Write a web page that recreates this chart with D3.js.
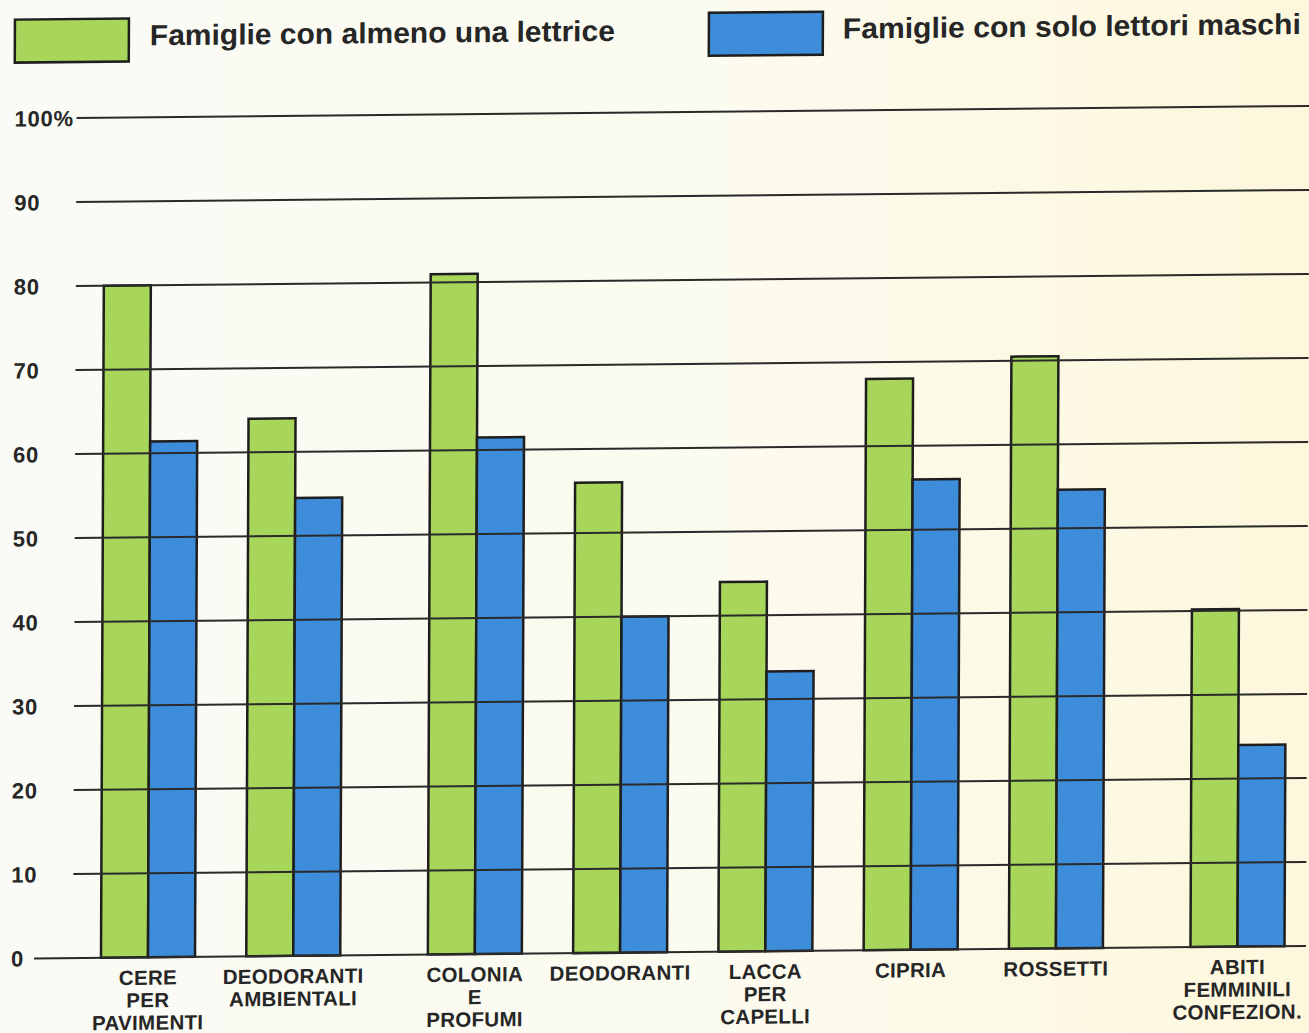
<!DOCTYPE html>
<html>
<head>
<meta charset="utf-8">
<script src="https://cdn.jsdelivr.net/npm/d3@7"></script>
<style>
  html, body { margin: 0; padding: 0; background: #fbfbf6; }
  svg { display: block; }
  text { font-family: "Liberation Sans", Arial, Helvetica, sans-serif; font-weight: bold; fill: #262626; }
</style>
</head>
<body>
<svg id="chart" width="1309" height="1033"></svg>
<script>
// Product categories (line breaks mark how each label wraps)
const categories = [
  "CERE\nPER\nPAVIMENTI",
  "DEODORANTI\nAMBIENTALI",
  "COLONIA\nE\nPROFUMI",
  "DEODORANTI",
  "LACCA\nPER\nCAPELLI",
  "CIPRIA",
  "ROSSETTI",
  "ABITI\nFEMMINILI\nCONFEZION."
];

// Percentages per series
const withFemaleReader = [80, 64, 81, 56, 44, 68, 70.5, 40.2];
const maleReadersOnly  = [61.4, 54.5, 61.5, 40, 33.3, 56, 54.6, 24];

const seriesNames = ["Famiglie con almeno una lettrice", "Famiglie con solo lettori maschi"];

// Y axis ticks and their labels
const yTicks = [0, 10, 20, 30, 40, 50, 60, 70, 80, 90, 100];
const yTickLabels = ["0", "10", "20", "30", "40", "50", "60", "70", "80", "90", "100%"];

// ---- layout ----
const W = 1309, H = 1033;
const colors = ["#a7d65b", "#3e8ddb"];
const ink = "#1e1e1e";
const barW = 47;

// groups that start after a wider gap
const wideGapBefore = new Set(["COLONIA\nE\nPROFUMI", "ABITI\nFEMMINILI\nCONFEZION."]);
let extra = 0;
const slots = categories.map((c, i) => {
  if (wideGapBefore.has(c)) extra += 0.25;
  return i + extra;
});

const x = d3.scaleLinear().domain([0, d3.max(slots)]).range([101, 1190.5]);
const y = d3.scaleLinear().domain([0, 100]).range([958, 118]);

const svg = d3.select("#chart");

// paper tone, slightly warmer towards the right
const defs = svg.append("defs");
const grad = defs.append("linearGradient").attr("id", "paper")
  .attr("x1", "0").attr("y1", "0").attr("x2", "1").attr("y2", "0");
grad.append("stop").attr("offset", "0").attr("stop-color", "#fafbf6");
grad.append("stop").attr("offset", "0.55").attr("stop-color", "#fcfbef");
grad.append("stop").attr("offset", "1").attr("stop-color", "#fdf7dc");
svg.append("rect").attr("width", W).attr("height", H).attr("fill", "url(#paper)");

// the printed page sits slightly askew
const g = svg.append("g")
  .attr("transform", "translate(75,958) matrix(1,-0.0098,-0.0042,1,0,0) translate(-75,-958)");

// ---- legend ----
const legendPos = [{ bx: 11, tx: 146, tw: 465 }, { bx: 705, tx: 839, tw: 458 }];
const legend = g.append("g").selectAll("g").data(seriesNames).join("g");
legend.append("rect")
  .attr("x", (d, i) => legendPos[i].bx).attr("y", 19)
  .attr("width", 114).attr("height", 43)
  .attr("fill", (d, i) => colors[i])
  .attr("stroke", ink).attr("stroke-width", 2.5);
legend.append("text")
  .attr("x", (d, i) => legendPos[i].tx).attr("y", 46)
  .attr("font-size", 29)
  .attr("textLength", (d, i) => legendPos[i].tw)
  .attr("lengthAdjust", "spacingAndGlyphs")
  .text(d => d);

// ---- bars ----
const groups = g.append("g").selectAll("g").data(categories).join("g");
groups.append("rect")
  .attr("x", (d, i) => x(slots[i]))
  .attr("y", (d, i) => y(withFemaleReader[i]))
  .attr("width", barW)
  .attr("height", (d, i) => y(0) - y(withFemaleReader[i]))
  .attr("fill", colors[0]).attr("stroke", ink).attr("stroke-width", 2.5);
groups.append("rect")
  .attr("x", (d, i) => x(slots[i]) + barW)
  .attr("y", (d, i) => y(maleReadersOnly[i]))
  .attr("width", barW)
  .attr("height", (d, i) => y(0) - y(maleReadersOnly[i]))
  .attr("fill", colors[1]).attr("stroke", ink).attr("stroke-width", 2.5);

// ---- gridlines (printed over the bars) ----
g.append("g").selectAll("line").data(yTicks).join("line")
  .attr("x1", d => d === 0 ? 34 : 73)
  .attr("x2", 1306)
  .attr("y1", d => y(d)).attr("y2", d => y(d))
  .attr("stroke", "#2a2a2a").attr("stroke-width", 2);

g.append("g").selectAll("text").data(yTicks).join("text")
  .attr("x", 11)
  .attr("y", d => y(d))
  .attr("dy", "0.36em")
  .attr("font-size", 22)
  .attr("letter-spacing", 0.8)
  .text((d, i) => yTickLabels[i]);

// ---- category labels ----
const catLabels = g.append("g").selectAll("text").data(categories).join("text")
  .attr("x", (d, i) => x(slots[i]) + barW)
  .attr("y", y(0) + 27.5)
  .attr("text-anchor", "middle")
  .attr("font-size", 20.5)
  .attr("letter-spacing", 0.3);
catLabels.selectAll("tspan")
  .data((d, i) => d.split("\n").map(s => ({ s, cx: x(slots[i]) + barW })))
  .join("tspan")
  .attr("x", d => d.cx)
  .attr("dy", (d, j) => j === 0 ? 0 : 22.5)
  .text(d => d.s);
</script>
</body>
</html>
